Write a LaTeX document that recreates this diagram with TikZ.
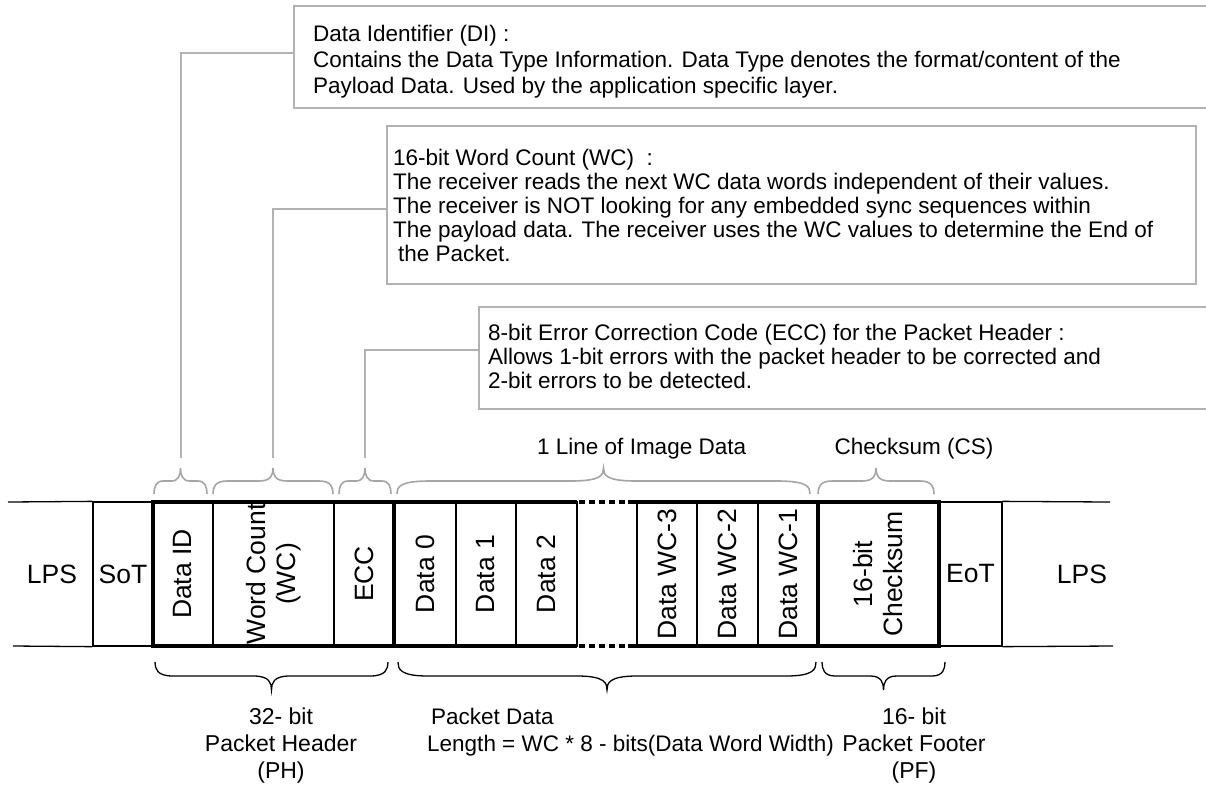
\documentclass[tikz,border=0pt]{standalone}
\usepackage{fontspec}
\setmainfont{Liberation Sans}
\usepackage{tikz}
\usetikzlibrary{positioning}

\definecolor{calloutgray}{RGB}{178,178,178}
\definecolor{bracegray}{RGB}{165,165,165}

\begin{document}
\begin{tikzpicture}[x=1pt, y=-1pt,
    field/.style={draw, line width=1.3pt, inner sep=0pt, minimum height=144pt,
      font=\fontsize{26.5}{30}\selectfont},
    vfield/.style={field, rotate=90, minimum height=0pt, minimum width=144pt, align=center},
    fieldtxt/.style={inner sep=0pt, font=\fontsize{26.5}{30}\selectfont},
    rowline/.style={line width=1.3pt},
    heavy/.style={line width=3.5pt},
    callbox/.style={draw=calloutgray, line width=1.6pt, fill=white, anchor=north west},
    calltext/.style={inner sep=0pt, anchor=north west, align=left,
      font=\fontsize{22.5}{24}\selectfont},
    callline/.style={draw=calloutgray, line width=1.6pt},
    topbrace/.style={draw=bracegray, line width=1.6pt},
    botbrace/.style={draw=black, line width=1.3pt},
    lbl/.style={inner sep=0pt, font=\fontsize{22.5}{27}\selectfont}]

  \useasboundingbox (0,0) rectangle (1206,785);

  % callout boxes
  \node[callbox, minimum width=925pt, minimum height=102pt] (dibox) at (293,5) {};
  \node[callbox, minimum width=809pt, minimum height=158pt] (wcbox) at (386,125) {};
  \node[callbox, minimum width=740pt, minimum height=102pt] (eccbox) at (478,306) {};

  \node[calltext, font=\fontsize{22.5}{26}\selectfont] (ditext) at (313,25)
    {Data Identifier (DI) :\\
     Contains the Data Type Information. Data Type denotes the format/content of the\\
     Payload Data. Used by the application specific layer.};
  \node[calltext] (wctext) at (393,149)
    {16-bit Word Count (WC)\ \ :\\
     The receiver reads the next WC data words independent of their values.\\
     The receiver is NOT looking for any embedded sync sequences within\\
     The payload data. The receiver uses the WC values to determine the End of\\
     \hspace*{5pt}the Packet.};
  \node[calltext] (ecctext) at (488,324)
    {8-bit Error Correction Code (ECC) for the Packet Header :\\
     Allows 1-bit errors with the packet header to be corrected and\\
     2-bit errors to be detected.};

  % where the callout lines stop above the braces
  \coordinate (ditip) at (181,458);
  \coordinate (wctip) at (273,458);
  \coordinate (ecctip) at (365,458);

  \draw[callline] ([yshift=4pt]dibox.west) -| (ditip);
  \draw[callline] ([yshift=-4pt]wcbox.west) -| (wctip);
  \draw[callline] ([yshift=8pt]eccbox.west) -| (ecctip);

  % packet fields
  \foreach \x/\w/\name/\txt in {123/60/sot/SoT, 970.5/63/eot/EoT}
    \node[field, minimum width=\w] (\name) at (\x,574) {\txt};
  \foreach \x/\w/\name/\txt in {183/60/did/Data ID, 273.5/121/wc/{Word Count\\(WC)},
      364/60/ecc/ECC, 425/62/dzero/Data 0, 486/60/done/Data 1, 546.5/61/dtwo/Data 2,
      667/60/wcthree/Data WC-3, 727.5/61/wctwo/Data WC-2, 788/60/wcone/Data WC-1,
      878.5/121/cs/{16-bit\\Checksum}}
    \node[vfield, minimum height=\w] (\name) at (\x,574) {\txt};

  \node[fieldtxt] (lpsleft) at (52,574) {LPS};
  \node[fieldtxt] (lpsright) at (1082,574) {LPS};

  \draw[rowline] (8,502) -- (sot.north west) (13,646) -- (sot.south west);
  \draw[rowline] (eot.north east) -- (1110,502) (eot.south east) -- (1113,646);

  % heavy outline of header, payload and footer
  \draw[heavy] (153,502) rectangle (394,646);
  \draw[heavy] (818,502) rectangle (939,646);
  \draw[heavy] (394,502) -- (577,502) (394,646) -- (577,646);
  \draw[heavy] (628,502) -- (818,502) (628,646) -- (818,646);
  \draw[heavy, dash pattern=on 6pt off 4pt] (579,502) -- (628,502) (579,646) -- (628,646);

  % braces above the fields
  \foreach \xa/\xb/\r in {154/207/9, 213/333/14, 339/391/9, 397/810/33, 818/934/14} {
    \pgfmathsetmacro{\xm}{(\xa+\xb)/2}
    \draw[topbrace] (\xa,494) .. controls (\xa,487) and (\xa+2,481) .. (\xa+\r,481)
      -- (\xm-\r,481) .. controls (\xm-2,481) and (\xm,475) .. (\xm,468)
      .. controls (\xm,475) and (\xm+2,481) .. (\xm+\r,481)
      -- (\xb-\r,481) .. controls (\xb-2,481) and (\xb,487) .. (\xb,494);
  }
  \node[lbl, anchor=west] (linelbl) at (537,449) {1 Line of Image Data};
  \node[lbl] (cslbl) at (914,449) {Checksum (CS)};

  % braces below the fields
  \foreach \xa/\xb/\r in {155/388/18, 398/816/30, 822/945/13} {
    \pgfmathsetmacro{\xm}{(\xa+\xb)/2}
    \draw[botbrace] (\xa,662) .. controls (\xa,669) and (\xa+2,676) .. (\xa+\r,676)
      -- (\xm-\r,676) .. controls (\xm-2,676) and (\xm,683) .. (\xm,690)
      .. controls (\xm,683) and (\xm+2,676) .. (\xm+\r,676)
      -- (\xb-\r,676) .. controls (\xb-2,676) and (\xb,669) .. (\xb,662);
  }
  \node[lbl, align=center, anchor=north, font=\fontsize{23}{27}\selectfont] (phlbl)
    at (281,708) {32- bit\\Packet Header\\(PH)};
  \node[lbl, align=left, anchor=north west] (pdlbl)
    at (427,708) {\hspace*{4pt}Packet Data\\Length = WC * 8 - bits(Data Word Width)};
  \node[lbl, align=center, anchor=north, font=\fontsize{23}{27}\selectfont] (pflbl)
    at (914,708) {16- bit\\Packet Footer\\(PF)};
\end{tikzpicture}
\end{document}
